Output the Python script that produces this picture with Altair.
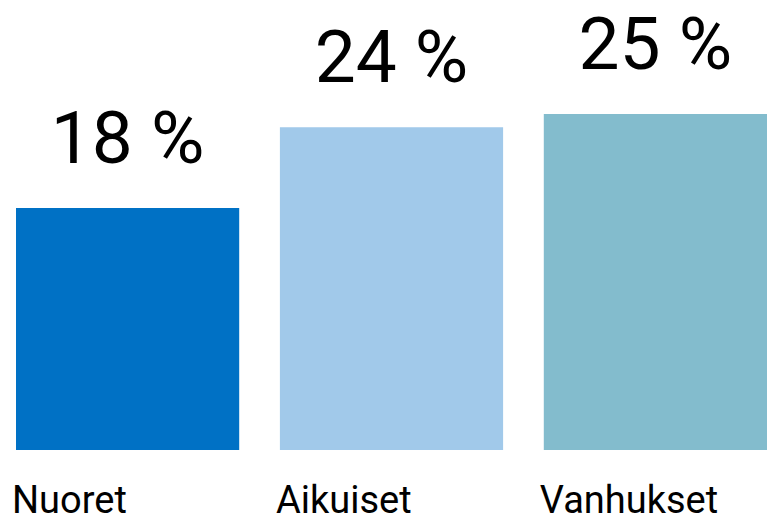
import altair as alt
import pandas as pd

categories = ["Nuoret", "Aikuiset", "Vanhukset"]
values = [18, 24, 25]
labels = ["18 %", "24 %", "25 %"]
colors = ["#0071c5", "#a1c9ea", "#83bccd"]

df = pd.DataFrame({"cat": categories, "val": values, "label": labels})

xscale = alt.Scale(domain=categories, paddingInner=0.1542, paddingOuter=0.01516, align=1)
x = alt.X("cat:N", scale=xscale, axis=None, sort=categories)
y = alt.Y("val:Q", scale=alt.Scale(domain=[0, 32.88], nice=False, zero=True), axis=None)
color = alt.Color("cat:N", scale=alt.Scale(domain=categories, range=colors), legend=None)

base = alt.Chart(df)

bars = base.mark_bar(cornerRadius=0).encode(x=x, y=y, color=color)

vals = base.mark_text(
    font="Roboto", fontSize=73, align="center", baseline="alphabetic", dy=-45, color="#000000"
).encode(x=x, y=y, text="label:N")

cats = base.mark_text(
    font="Roboto", fontSize=38, align="left", baseline="alphabetic", dx=-4, color="#000000"
).encode(
    x=alt.X("cat:N", scale=xscale, axis=None, sort=categories, bandPosition=0),
    y=alt.value(505),
    text="cat:N",
)

chart = (
    alt.layer(bars, vals, cats)
    .properties(
        width=759,
        height=442,
        padding={"left": 0, "top": 0, "right": 0, "bottom": 67},
        autosize=alt.AutoSizeParams(type="none"),
        background="#ffffff",
    )
    .configure_view(stroke=None, strokeWidth=0)
)

chart.save("out.html", embed_options={"renderer": "svg", "actions": False})
